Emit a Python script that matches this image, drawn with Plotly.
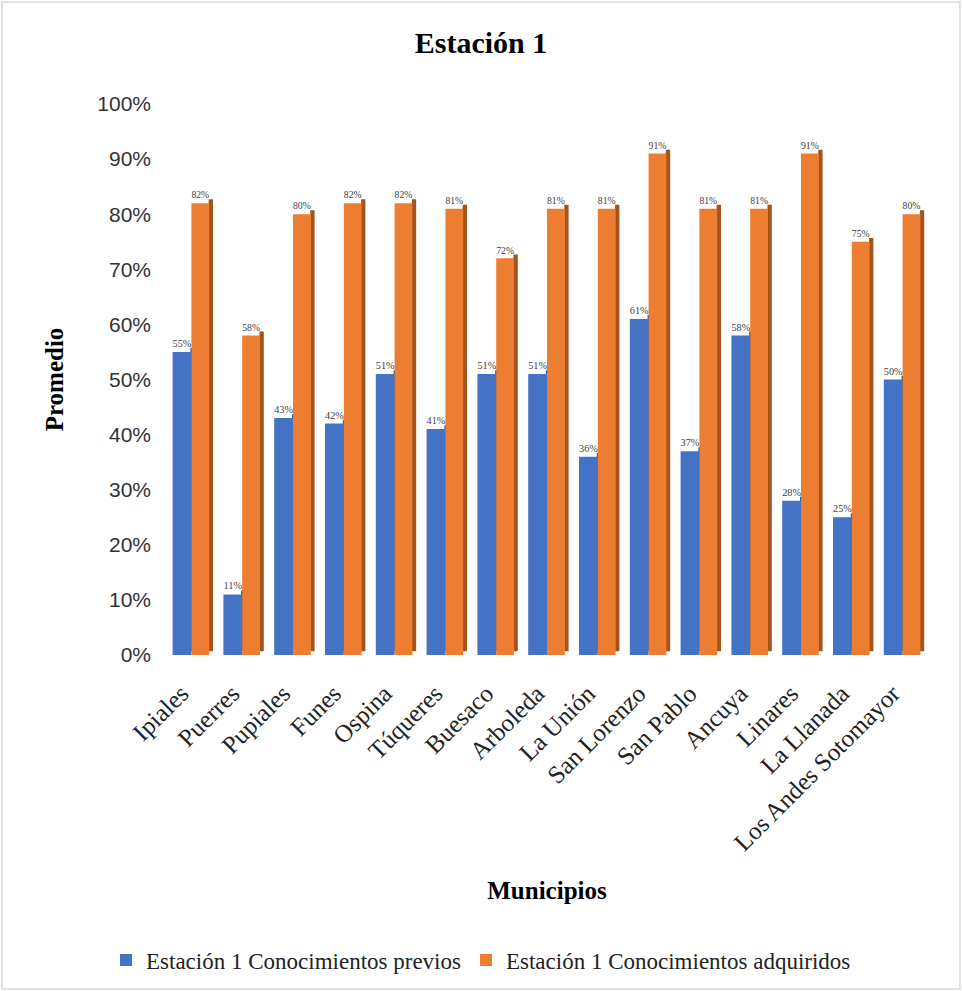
import plotly.graph_objects as go

municipios = ["Ipiales", "Puerres", "Pupiales", "Funes", "Ospina", "Túqueres", "Buesaco",
              "Arboleda", "La Unión", "San Lorenzo", "San Pablo", "Ancuya", "Linares",
              "La Llanada", "Los Andes Sotomayor"]
previos = [0.55, 0.11, 0.43, 0.42, 0.51, 0.41, 0.51, 0.51, 0.36, 0.61, 0.37, 0.58, 0.28, 0.25, 0.50]
adquiridos = [0.82, 0.58, 0.80, 0.82, 0.82, 0.81, 0.72, 0.81, 0.81, 0.91, 0.81, 0.81, 0.91, 0.75, 0.80]
serie_names = ["Estación 1 Conocimientos previos", "Estación 1 Conocimientos adquiridos"]
y_ticks = [0, 0.1, 0.2, 0.3, 0.4, 0.5, 0.6, 0.7, 0.8, 0.9, 1.0]

BLUE = "#4472C4"
BLUE_DARK = "#2F5597"
ORANGE = "#ED7D31"
ORANGE_DARK = "#A5521B"
SERIF = "Liberation Serif"
SANS = "Liberation Sans"

fig = go.Figure()

# depth (side) faces for 3D look
fig.add_trace(go.Bar(x=municipios, y=previos, base=0.007, offset=-0.02, width=0.08,
                     marker=dict(color=BLUE_DARK, line=dict(width=0)),
                     showlegend=False, hoverinfo="skip"))
fig.add_trace(go.Bar(x=municipios, y=adquiridos, base=0.007, offset=0.34, width=0.085,
                     marker=dict(color=ORANGE_DARK, line=dict(width=0)),
                     showlegend=False, hoverinfo="skip"))

# front faces
fig.add_trace(go.Bar(x=municipios, y=previos, name=serie_names[0], offset=-0.37, width=0.37,
                     marker=dict(color=BLUE, line=dict(width=0)),
                     texttemplate="%{y:.0%}", textposition="outside",
                     textfont=dict(family=SERIF, size=11, color="#404040"), cliponaxis=False))
fig.add_trace(go.Bar(x=municipios, y=adquiridos, name=serie_names[1], offset=0.0, width=0.35,
                     marker=dict(color=ORANGE, line=dict(width=0)),
                     texttemplate="%{y:.0%}", textposition="outside",
                     textfont=dict(family=SERIF, size=11, color="#404040"), cliponaxis=False))

L, R, T, B = 166, 34, 104, 336
W, H = 962, 991
pw = W - L - R
ph = H - T - B

fig.update_layout(
    width=W, height=H,
    margin=dict(l=L, r=R, t=T, b=B),
    paper_bgcolor="white", plot_bgcolor="white",
    barmode="overlay",
    title=dict(text="<b>Estación 1</b>", x=0.5, xref="container", xanchor="center",
               y=1 - 42 / H, yref="container", yanchor="middle",
               font=dict(family=SERIF, size=30, color="#000000")),
    xaxis=dict(tickangle=-45, tickfont=dict(family=SERIF, size=25, color="#222222"),
               showgrid=False, showline=False, ticks="", zeroline=False,
               ticklabelstandoff=18, ticklabelshift=-10,
               title=dict(text="<b>Municipios</b>", font=dict(family=SERIF, size=25, color="#000000"),
                          standoff=26)),
    yaxis=dict(range=[0, 1.0], tickvals=y_ticks, tickformat=".0%",
               tickfont=dict(family=SANS, size=21, color="#333333"),
               showgrid=False, zeroline=False, showline=False, ticks="",
               ticklabelstandoff=14,
               title=dict(text="<b>Promedio</b>", font=dict(family=SERIF, size=25, color="#000000"),
                          standoff=26)),
    legend=dict(orientation="h", x=0.5, xref="container", xanchor="center",
                y=1 - 960 / H, yref="container", yanchor="middle",
                font=dict(family=SERIF, size=23, color="#222222"),
                itemwidth=30, tracegroupgap=0),
    showlegend=True,
)

# chart-area border
fig.add_shape(type="rect", xref="paper", yref="paper",
              x0=(2 - L) / pw, x1=(W - 2 - L) / pw,
              y0=-(H - 2 - (H - B)) / ph, y1=1 + (T - 2) / ph,
              line=dict(color="#D9D9D9", width=1.5), fillcolor="rgba(0,0,0,0)", layer="below")

fig.write_html("out.html")
